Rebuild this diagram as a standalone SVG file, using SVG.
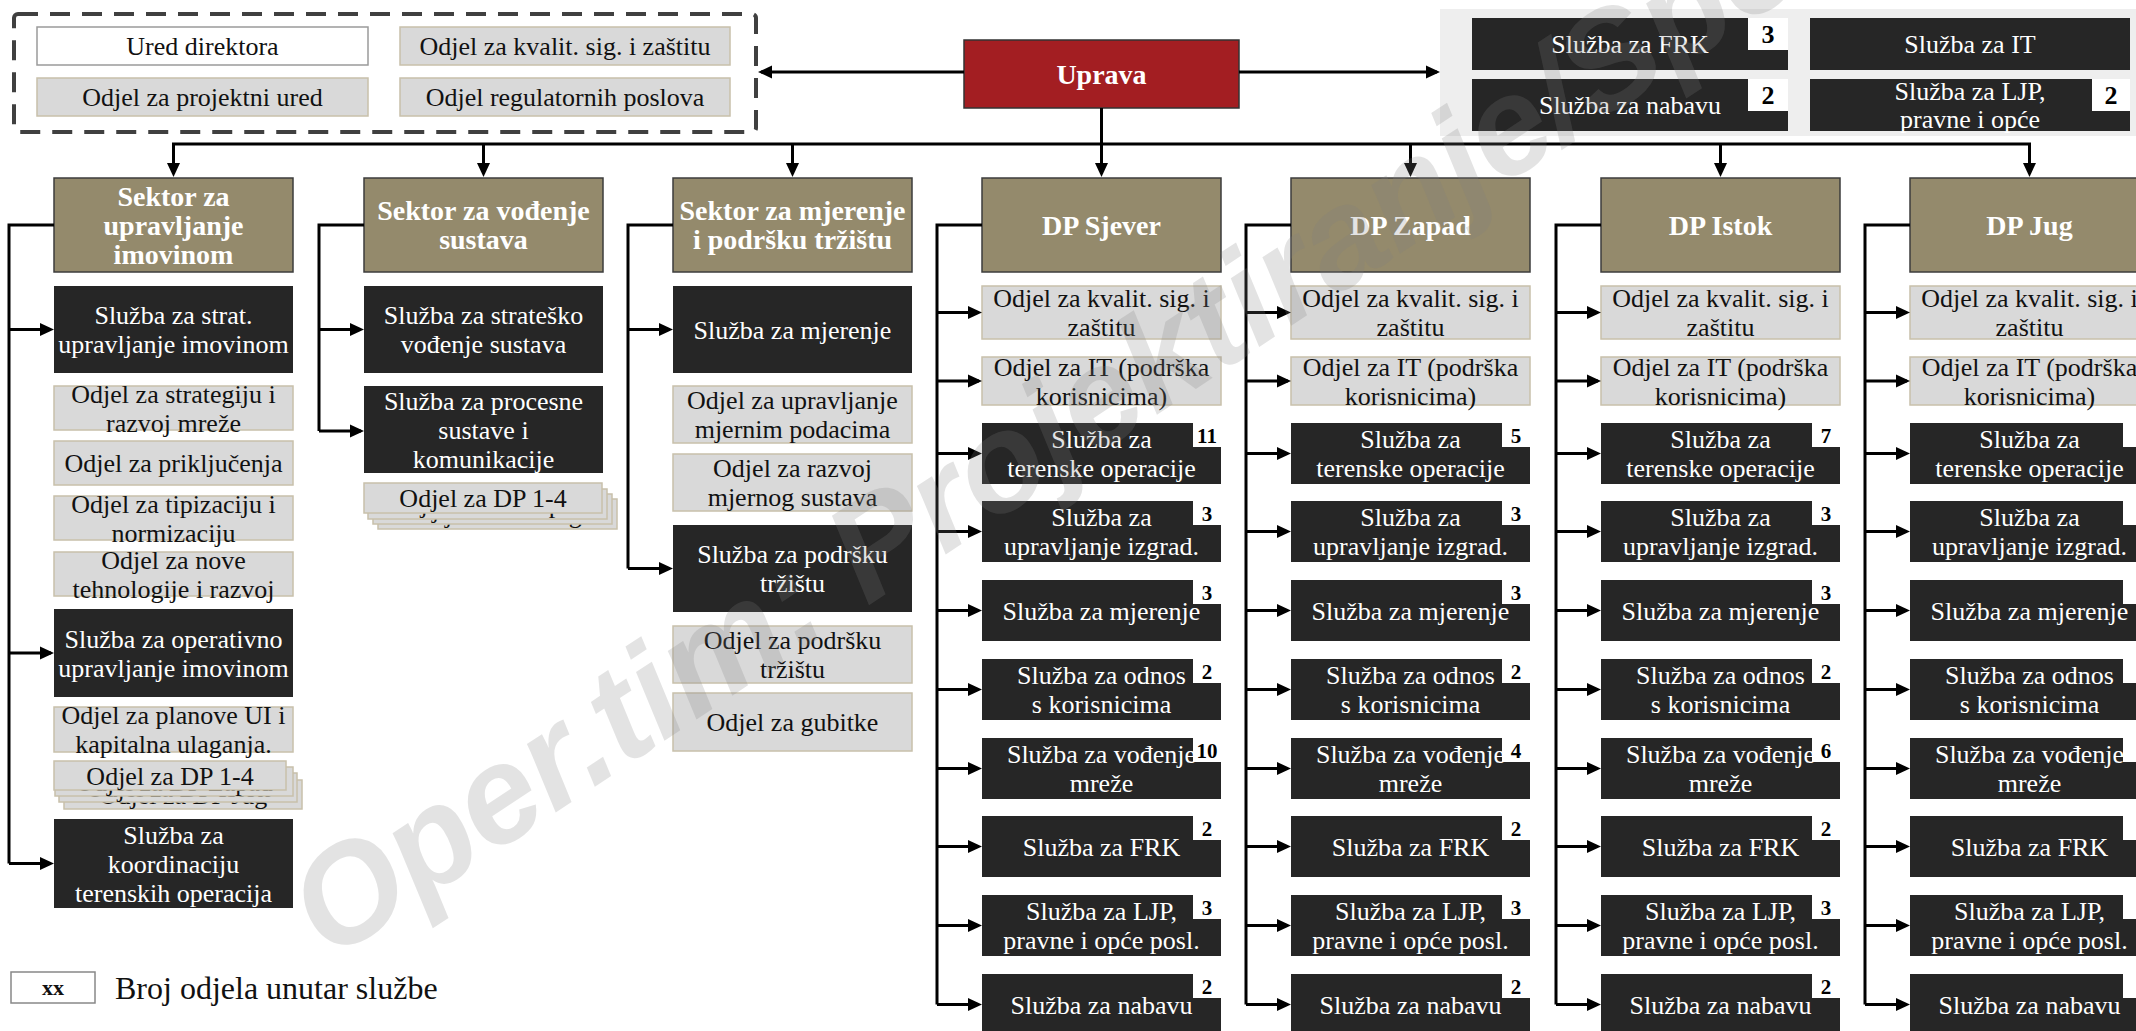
<svg xmlns="http://www.w3.org/2000/svg" width="2136" height="1031" viewBox="0 0 2136 1031">
<defs>
<style>
text{font-family:"Liberation Serif","Times New Roman",serif;text-anchor:middle}
.w{fill:#fff;font-size:26px}
.k{fill:#111;font-size:26px}
.h{fill:#fff;font-size:28px;font-weight:bold}
.n{fill:#000;font-size:21px;font-weight:bold}
.n2{fill:#000;font-size:26px;font-weight:bold}
.dk{fill:#262626}
.od{fill:#d9d9d9;stroke:#c8c0aa;stroke-width:1.5}
.hd{fill:#948a6c;stroke:#3c3c3c;stroke-width:1.5}
.bg{fill:#fff}
.c{stroke:#000;stroke-width:3;fill:none}
.wm{font-family:"Liberation Sans",Arial,sans-serif;font-weight:bold;font-style:italic;font-size:138px;fill:#808080;fill-opacity:0.22;text-anchor:start}
</style>
<marker id="ah" viewBox="0 0 14 14" markerWidth="14" markerHeight="14" refX="11" refY="7" orient="auto" markerUnits="userSpaceOnUse"><path d="M0,0.5 L14,7 L0,13.5 z" fill="#000"/></marker>
<g id="br">
<path d="M0,225 H-45 V1004.5"/>
<line x1="-45" y1="312.5" x2="-3" y2="312.5" marker-end="url(#ah)"/>
<line x1="-45" y1="381" x2="-3" y2="381" marker-end="url(#ah)"/>
<line x1="-45" y1="453.5" x2="-3" y2="453.5" marker-end="url(#ah)"/>
<line x1="-45" y1="531.5" x2="-3" y2="531.5" marker-end="url(#ah)"/>
<line x1="-45" y1="610.5" x2="-3" y2="610.5" marker-end="url(#ah)"/>
<line x1="-45" y1="689.5" x2="-3" y2="689.5" marker-end="url(#ah)"/>
<line x1="-45" y1="768.5" x2="-3" y2="768.5" marker-end="url(#ah)"/>
<line x1="-45" y1="846.5" x2="-3" y2="846.5" marker-end="url(#ah)"/>
<line x1="-45" y1="925.5" x2="-3" y2="925.5" marker-end="url(#ah)"/>
<line x1="-45" y1="1004.5" x2="-3" y2="1004.5" marker-end="url(#ah)"/>
</g>
</defs>
<rect width="2136" height="1031" fill="#fff"/>

<g id="staff">
<rect x="14" y="14" width="742" height="118" rx="4" fill="none" stroke="#404040" stroke-width="4" stroke-dasharray="20 12"/>
<g id="ured"><rect x="37" y="27" width="331" height="38" fill="#fff" stroke="#9a9a9a" stroke-width="1.5"/><text class="k" x="202.5" y="55">Ured direktora</text></g>
<g id="kval-top"><rect class="od" x="400" y="27" width="330" height="38"/><text class="k" x="565" y="55">Odjel za kvalit. sig. i zaštitu</text></g>
<g id="projektni"><rect class="od" x="37" y="78" width="331" height="38"/><text class="k" x="202.5" y="106">Odjel za projektni ured</text></g>
<g id="regulatorni"><rect class="od" x="400" y="78" width="330" height="38"/><text class="k" x="565" y="106">Odjel regulatornih poslova</text></g>
</g>

<g id="uprava"><rect x="964" y="40" width="275" height="68" fill="#a31e22" stroke="#333" stroke-width="1.5"/><text class="h" x="1101.5" y="84">Uprava</text></g>

<g id="support">
<rect x="1440" y="9" width="700" height="127" fill="#eeeeee"/>
<g id="s-frk"><rect class="dk" x="1472" y="18" width="316" height="52"/><text class="w" x="1630" y="53">Služba za FRK</text><rect class="bg" x="1748" y="18" width="40" height="32"/><text class="n2" x="1768" y="43">3</text></g>
<g id="s-it"><rect class="dk" x="1810" y="18" width="320" height="52"/><text class="w" x="1970" y="53">Služba za IT</text></g>
<g id="s-nabava"><rect class="dk" x="1472" y="79" width="316" height="52"/><text class="w" x="1630" y="114">Služba za nabavu</text><rect class="bg" x="1748" y="79" width="40" height="32"/><text class="n2" x="1768" y="104">2</text></g>
<g id="s-ljp"><rect class="dk" x="1810" y="79" width="320" height="52"/><text class="w" x="1970" y="100">Služba za LJP,<tspan x="1970" dy="28">pravne i opće</tspan></text><rect class="bg" x="2092" y="79" width="38" height="32"/><text class="n2" x="2111" y="104">2</text></g>
</g>

<g id="sektor1">
<g id="s1-hdr"><rect class="hd" x="54" y="178" width="239" height="94"/><text class="h" x="173.5" y="205.5">Sektor za<tspan x="173.5" dy="29">upravljanje</tspan><tspan x="173.5" dy="29">imovinom</tspan></text></g>
<g id="s1-strat"><rect class="dk" x="54" y="286" width="239" height="87"/><text class="w" x="173.5" y="324">Služba za strat.<tspan x="173.5" dy="29">upravljanje imovinom</tspan></text></g>
<g id="s1-o1"><rect class="od" x="54" y="386" width="239" height="44"/><text class="k" x="173.5" y="402.5">Odjel za strategiju i<tspan x="173.5" dy="29">razvoj mreže</tspan></text></g>
<g id="s1-o2"><rect class="od" x="54" y="441" width="239" height="44"/><text class="k" x="173.5" y="472">Odjel za priključenja</text></g>
<g id="s1-o3"><rect class="od" x="54" y="496" width="239" height="44"/><text class="k" x="173.5" y="512.5">Odjel za tipizaciju i<tspan x="173.5" dy="29">normizaciju</tspan></text></g>
<g id="s1-o4"><rect class="od" x="54" y="552" width="239" height="44"/><text class="k" x="173.5" y="568.5">Odjel za nove<tspan x="173.5" dy="29">tehnologije i razvoj</tspan></text></g>
<g id="s1-oper"><rect class="dk" x="54" y="609" width="239" height="88"/><text class="w" x="173.5" y="647.5">Služba za operativno<tspan x="173.5" dy="29">upravljanje imovinom</tspan></text></g>
<g id="s1-o5"><rect class="od" x="54" y="707" width="239" height="45"/><text class="k" x="173.5" y="724">Odjel za planove UI i<tspan x="173.5" dy="29">kapitalna ulaganja.</tspan></text></g>
<g id="s1-dp">
<rect class="od" x="64" y="780" width="238" height="29"/><text class="k" x="183" y="803.5">Odjel za DP Jug</text>
<rect class="od" x="59" y="773" width="238" height="29"/><text class="k" x="178" y="796.5">Odjel za DP Istok</text>
<rect class="od" x="55" y="767" width="238" height="29"/><text class="k" x="174" y="790.5">Odjel za DP Zapad</text>
<rect class="od" x="54" y="761" width="232" height="29"/><text class="k" x="170" y="784.5">Odjel za DP 1-4</text>
</g>
<g id="s1-koord"><rect class="dk" x="54" y="819" width="239" height="89"/><text class="w" x="173.5" y="843.5">Služba za<tspan x="173.5" dy="29">koordinaciju</tspan><tspan x="173.5" dy="29">terenskih operacija</tspan></text></g>
</g>

<g id="sektor2">
<g id="s2-hdr"><rect class="hd" x="364" y="178" width="239" height="94"/><text class="h" x="483.5" y="220">Sektor za vođenje<tspan x="483.5" dy="29">sustava</tspan></text></g>
<g id="s2-strat"><rect class="dk" x="364" y="286" width="239" height="87"/><text class="w" x="483.5" y="324">Služba za strateško<tspan x="483.5" dy="29">vođenje sustava</tspan></text></g>
<g id="s2-proc"><rect class="dk" x="364" y="386" width="239" height="87"/><text class="w" x="483.5" y="410">Služba za procesne<tspan x="483.5" dy="29">sustave i</tspan><tspan x="483.5" dy="29">komunikacije</tspan></text></g>
<g id="s2-dp">
<rect class="od" x="378" y="499" width="239" height="30"/><text class="k" x="497.5" y="523">Odjel za DP Jug</text>
<rect class="od" x="373" y="494" width="239" height="30"/><text class="k" x="492.5" y="518">Odjel za DP Istok</text>
<rect class="od" x="368" y="489" width="239" height="30"/><text class="k" x="487.5" y="513">Odjel za DP Zapad</text>
<rect class="od" x="364" y="483" width="238" height="30"/><text class="k" x="483" y="507">Odjel za DP 1-4</text>
</g>
</g>

<g id="sektor3">
<g id="s3-hdr"><rect class="hd" x="673" y="178" width="239" height="94"/><text class="h" x="792.5" y="220">Sektor za mjerenje<tspan x="792.5" dy="29">i podršku tržištu</tspan></text></g>
<g id="s3-mjer"><rect class="dk" x="673" y="286" width="239" height="87"/><text class="w" x="792.5" y="338.5">Služba za mjerenje</text></g>
<g id="s3-o1"><rect class="od" x="673" y="386" width="239" height="57"/><text class="k" x="792.5" y="409">Odjel za upravljanje<tspan x="792.5" dy="29">mjernim podacima</tspan></text></g>
<g id="s3-o2"><rect class="od" x="673" y="454" width="239" height="57"/><text class="k" x="792.5" y="477">Odjel za razvoj<tspan x="792.5" dy="29">mjernog sustava</tspan></text></g>
<g id="s3-trz"><rect class="dk" x="673" y="525" width="239" height="87"/><text class="w" x="792.5" y="563">Služba za podršku<tspan x="792.5" dy="29">tržištu</tspan></text></g>
<g id="s3-o3"><rect class="od" x="673" y="626" width="239" height="57"/><text class="k" x="792.5" y="649">Odjel za podršku<tspan x="792.5" dy="29">tržištu</tspan></text></g>
<g id="s3-o4"><rect class="od" x="673" y="693" width="239" height="58"/><text class="k" x="792.5" y="731">Odjel za gubitke</text></g>
</g>

<g id="dp-sjever" transform="translate(982,0)">
<g id="sj-hdr"><rect class="hd" x="0" y="178" width="239" height="94"/><text class="h" x="119.5" y="235">DP Sjever</text></g>
<g id="sj-kval"><rect class="od" x="0" y="286" width="239" height="53"/><text class="k" x="119.5" y="307">Odjel za kvalit. sig. i<tspan x="119.5" dy="29">zaštitu</tspan></text></g>
<g id="sj-it"><rect class="od" x="0" y="357" width="239" height="48"/><text class="k" x="119.5" y="375.5">Odjel za IT (podrška<tspan x="119.5" dy="29">korisnicima)</tspan></text></g>
<g id="sj-ter"><rect class="dk" x="0" y="423" width="239" height="61"/><text class="w" x="119.5" y="448">Služba za<tspan x="119.5" dy="29">terenske operacije</tspan></text><rect class="bg" x="211" y="423" width="28" height="24"/><text class="n" x="225" y="443">11</text></g>
<g id="sj-izg"><rect class="dk" x="0" y="501" width="239" height="61"/><text class="w" x="119.5" y="526">Služba za<tspan x="119.5" dy="29">upravljanje izgrad.</tspan></text><rect class="bg" x="211" y="501" width="28" height="24"/><text class="n" x="225" y="521">3</text></g>
<g id="sj-mje"><rect class="dk" x="0" y="580" width="239" height="61"/><text class="w" x="119.5" y="619.5">Služba za mjerenje</text><rect class="bg" x="211" y="580" width="28" height="24"/><text class="n" x="225" y="600">3</text></g>
<g id="sj-odn"><rect class="dk" x="0" y="659" width="239" height="61"/><text class="w" x="119.5" y="684">Služba za odnos<tspan x="119.5" dy="29">s korisnicima</tspan></text><rect class="bg" x="211" y="659" width="28" height="24"/><text class="n" x="225" y="679">2</text></g>
<g id="sj-vod"><rect class="dk" x="0" y="738" width="239" height="61"/><text class="w" x="119.5" y="763">Služba za vođenje<tspan x="119.5" dy="29">mreže</tspan></text><rect class="bg" x="211" y="738" width="28" height="24"/><text class="n" x="225" y="758">10</text></g>
<g id="sj-frk"><rect class="dk" x="0" y="816" width="239" height="61"/><text class="w" x="119.5" y="855.5">Služba za FRK</text><rect class="bg" x="211" y="816" width="28" height="24"/><text class="n" x="225" y="836">2</text></g>
<g id="sj-ljp"><rect class="dk" x="0" y="895" width="239" height="61"/><text class="w" x="119.5" y="920">Služba za LJP,<tspan x="119.5" dy="29">pravne i opće posl.</tspan></text><rect class="bg" x="211" y="895" width="28" height="24"/><text class="n" x="225" y="915">3</text></g>
<g id="sj-nab"><rect class="dk" x="0" y="974" width="239" height="61"/><text class="w" x="119.5" y="1013.5">Služba za nabavu</text><rect class="bg" x="211" y="974" width="28" height="24"/><text class="n" x="225" y="994">2</text></g>
</g>

<g id="dp-zapad" transform="translate(1291,0)">
<g id="za-hdr"><rect class="hd" x="0" y="178" width="239" height="94"/><text class="h" x="119.5" y="235">DP Zapad</text></g>
<g id="za-kval"><rect class="od" x="0" y="286" width="239" height="53"/><text class="k" x="119.5" y="307">Odjel za kvalit. sig. i<tspan x="119.5" dy="29">zaštitu</tspan></text></g>
<g id="za-it"><rect class="od" x="0" y="357" width="239" height="48"/><text class="k" x="119.5" y="375.5">Odjel za IT (podrška<tspan x="119.5" dy="29">korisnicima)</tspan></text></g>
<g id="za-ter"><rect class="dk" x="0" y="423" width="239" height="61"/><text class="w" x="119.5" y="448">Služba za<tspan x="119.5" dy="29">terenske operacije</tspan></text><rect class="bg" x="211" y="423" width="28" height="24"/><text class="n" x="225" y="443">5</text></g>
<g id="za-izg"><rect class="dk" x="0" y="501" width="239" height="61"/><text class="w" x="119.5" y="526">Služba za<tspan x="119.5" dy="29">upravljanje izgrad.</tspan></text><rect class="bg" x="211" y="501" width="28" height="24"/><text class="n" x="225" y="521">3</text></g>
<g id="za-mje"><rect class="dk" x="0" y="580" width="239" height="61"/><text class="w" x="119.5" y="619.5">Služba za mjerenje</text><rect class="bg" x="211" y="580" width="28" height="24"/><text class="n" x="225" y="600">3</text></g>
<g id="za-odn"><rect class="dk" x="0" y="659" width="239" height="61"/><text class="w" x="119.5" y="684">Služba za odnos<tspan x="119.5" dy="29">s korisnicima</tspan></text><rect class="bg" x="211" y="659" width="28" height="24"/><text class="n" x="225" y="679">2</text></g>
<g id="za-vod"><rect class="dk" x="0" y="738" width="239" height="61"/><text class="w" x="119.5" y="763">Služba za vođenje<tspan x="119.5" dy="29">mreže</tspan></text><rect class="bg" x="211" y="738" width="28" height="24"/><text class="n" x="225" y="758">4</text></g>
<g id="za-frk"><rect class="dk" x="0" y="816" width="239" height="61"/><text class="w" x="119.5" y="855.5">Služba za FRK</text><rect class="bg" x="211" y="816" width="28" height="24"/><text class="n" x="225" y="836">2</text></g>
<g id="za-ljp"><rect class="dk" x="0" y="895" width="239" height="61"/><text class="w" x="119.5" y="920">Služba za LJP,<tspan x="119.5" dy="29">pravne i opće posl.</tspan></text><rect class="bg" x="211" y="895" width="28" height="24"/><text class="n" x="225" y="915">3</text></g>
<g id="za-nab"><rect class="dk" x="0" y="974" width="239" height="61"/><text class="w" x="119.5" y="1013.5">Služba za nabavu</text><rect class="bg" x="211" y="974" width="28" height="24"/><text class="n" x="225" y="994">2</text></g>
</g>

<g id="dp-istok" transform="translate(1601,0)">
<g id="is-hdr"><rect class="hd" x="0" y="178" width="239" height="94"/><text class="h" x="119.5" y="235">DP Istok</text></g>
<g id="is-kval"><rect class="od" x="0" y="286" width="239" height="53"/><text class="k" x="119.5" y="307">Odjel za kvalit. sig. i<tspan x="119.5" dy="29">zaštitu</tspan></text></g>
<g id="is-it"><rect class="od" x="0" y="357" width="239" height="48"/><text class="k" x="119.5" y="375.5">Odjel za IT (podrška<tspan x="119.5" dy="29">korisnicima)</tspan></text></g>
<g id="is-ter"><rect class="dk" x="0" y="423" width="239" height="61"/><text class="w" x="119.5" y="448">Služba za<tspan x="119.5" dy="29">terenske operacije</tspan></text><rect class="bg" x="211" y="423" width="28" height="24"/><text class="n" x="225" y="443" font-weight="normal">7</text></g>
<g id="is-izg"><rect class="dk" x="0" y="501" width="239" height="61"/><text class="w" x="119.5" y="526">Služba za<tspan x="119.5" dy="29">upravljanje izgrad.</tspan></text><rect class="bg" x="211" y="501" width="28" height="24"/><text class="n" x="225" y="521">3</text></g>
<g id="is-mje"><rect class="dk" x="0" y="580" width="239" height="61"/><text class="w" x="119.5" y="619.5">Služba za mjerenje</text><rect class="bg" x="211" y="580" width="28" height="24"/><text class="n" x="225" y="600">3</text></g>
<g id="is-odn"><rect class="dk" x="0" y="659" width="239" height="61"/><text class="w" x="119.5" y="684">Služba za odnos<tspan x="119.5" dy="29">s korisnicima</tspan></text><rect class="bg" x="211" y="659" width="28" height="24"/><text class="n" x="225" y="679">2</text></g>
<g id="is-vod"><rect class="dk" x="0" y="738" width="239" height="61"/><text class="w" x="119.5" y="763">Služba za vođenje<tspan x="119.5" dy="29">mreže</tspan></text><rect class="bg" x="211" y="738" width="28" height="24"/><text class="n" x="225" y="758">6</text></g>
<g id="is-frk"><rect class="dk" x="0" y="816" width="239" height="61"/><text class="w" x="119.5" y="855.5">Služba za FRK</text><rect class="bg" x="211" y="816" width="28" height="24"/><text class="n" x="225" y="836">2</text></g>
<g id="is-ljp"><rect class="dk" x="0" y="895" width="239" height="61"/><text class="w" x="119.5" y="920">Služba za LJP,<tspan x="119.5" dy="29">pravne i opće posl.</tspan></text><rect class="bg" x="211" y="895" width="28" height="24"/><text class="n" x="225" y="915">3</text></g>
<g id="is-nab"><rect class="dk" x="0" y="974" width="239" height="61"/><text class="w" x="119.5" y="1013.5">Služba za nabavu</text><rect class="bg" x="211" y="974" width="28" height="24"/><text class="n" x="225" y="994">2</text></g>
</g>

<g id="dp-jug" transform="translate(1910,0)">
<g id="ju-hdr"><rect class="hd" x="0" y="178" width="239" height="94"/><text class="h" x="119.5" y="235">DP Jug</text></g>
<g id="ju-kval"><rect class="od" x="0" y="286" width="239" height="53"/><text class="k" x="119.5" y="307">Odjel za kvalit. sig. i<tspan x="119.5" dy="29">zaštitu</tspan></text></g>
<g id="ju-it"><rect class="od" x="0" y="357" width="239" height="48"/><text class="k" x="119.5" y="375.5">Odjel za IT (podrška<tspan x="119.5" dy="29">korisnicima)</tspan></text></g>
<g id="ju-ter"><rect class="dk" x="0" y="423" width="239" height="61"/><text class="w" x="119.5" y="448">Služba za<tspan x="119.5" dy="29">terenske operacije</tspan></text><rect class="bg" x="213" y="423" width="28" height="24"/></g>
<g id="ju-izg"><rect class="dk" x="0" y="501" width="239" height="61"/><text class="w" x="119.5" y="526">Služba za<tspan x="119.5" dy="29">upravljanje izgrad.</tspan></text><rect class="bg" x="213" y="501" width="28" height="24"/><text class="n" x="232" y="521">3</text></g>
<g id="ju-mje"><rect class="dk" x="0" y="580" width="239" height="61"/><text class="w" x="119.5" y="619.5">Služba za mjerenje</text><rect class="bg" x="213" y="580" width="28" height="24"/><text class="n" x="232" y="600">3</text></g>
<g id="ju-odn"><rect class="dk" x="0" y="659" width="239" height="61"/><text class="w" x="119.5" y="684">Služba za odnos<tspan x="119.5" dy="29">s korisnicima</tspan></text><rect class="bg" x="213" y="659" width="28" height="24"/></g>
<g id="ju-vod"><rect class="dk" x="0" y="738" width="239" height="61"/><text class="w" x="119.5" y="763">Služba za vođenje<tspan x="119.5" dy="29">mreže</tspan></text><rect class="bg" x="213" y="738" width="28" height="24"/><text class="n" x="232" y="758">5</text></g>
<g id="ju-frk"><rect class="dk" x="0" y="816" width="239" height="61"/><text class="w" x="119.5" y="855.5">Služba za FRK</text><rect class="bg" x="213" y="816" width="28" height="24"/><text class="n" x="232" y="836">2</text></g>
<g id="ju-ljp"><rect class="dk" x="0" y="895" width="239" height="61"/><text class="w" x="119.5" y="920">Služba za LJP,<tspan x="119.5" dy="29">pravne i opće posl.</tspan></text><rect class="bg" x="213" y="895" width="28" height="24"/><text class="n" x="232" y="915">2</text></g>
<g id="ju-nab"><rect class="dk" x="0" y="974" width="239" height="61"/><text class="w" x="119.5" y="1013.5">Služba za nabavu</text><rect class="bg" x="213" y="974" width="28" height="24"/><text class="n" x="232" y="994">2</text></g>
</g>

<g id="connectors" class="c">
<line x1="964" y1="72" x2="761" y2="72" marker-end="url(#ah)"/>
<line x1="1239" y1="72" x2="1437" y2="72" marker-end="url(#ah)"/>
<path d="M1101.5,108 V144 M172,144 H2031"/>
<line x1="173.5" y1="144" x2="173.5" y2="174" marker-end="url(#ah)"/>
<line x1="483.5" y1="144" x2="483.5" y2="174" marker-end="url(#ah)"/>
<line x1="792.5" y1="144" x2="792.5" y2="174" marker-end="url(#ah)"/>
<line x1="1101.5" y1="144" x2="1101.5" y2="174" marker-end="url(#ah)"/>
<line x1="1410.5" y1="144" x2="1410.5" y2="174" marker-end="url(#ah)"/>
<line x1="1720.5" y1="144" x2="1720.5" y2="174" marker-end="url(#ah)"/>
<line x1="2029.5" y1="144" x2="2029.5" y2="174" marker-end="url(#ah)"/>
<path d="M54,225 H9 V863.5"/>
<line x1="9" y1="329.5" x2="51" y2="329.5" marker-end="url(#ah)"/>
<line x1="9" y1="653" x2="51" y2="653" marker-end="url(#ah)"/>
<line x1="9" y1="863.5" x2="51" y2="863.5" marker-end="url(#ah)"/>
<path d="M364,225 H319 V431"/>
<line x1="319" y1="329.5" x2="361" y2="329.5" marker-end="url(#ah)"/>
<line x1="319" y1="431" x2="361" y2="431" marker-end="url(#ah)"/>
<path d="M673,225 H628 V568.5"/>
<line x1="628" y1="329.5" x2="670" y2="329.5" marker-end="url(#ah)"/>
<line x1="628" y1="568.5" x2="670" y2="568.5" marker-end="url(#ah)"/>
<use href="#br" transform="translate(982,0)"/>
<use href="#br" transform="translate(1291,0)"/>
<use href="#br" transform="translate(1601,0)"/>
<use href="#br" transform="translate(1910,0)"/>
</g>

<g id="legend">
<rect x="11" y="972" width="84" height="31" fill="#fff" stroke="#888" stroke-width="1.5"/>
<text x="53" y="995" style="font-size:22px;font-weight:bold;fill:#111">xx</text>
<text x="115" y="999" style="font-size:32px;fill:#111;text-anchor:start">Broj odjela unutar službe</text>
</g>

<text class="wm" x="330" y="962" transform="rotate(-33.5 330 962)">Oper.tim: Projektiranje/Spo</text>
</svg>
